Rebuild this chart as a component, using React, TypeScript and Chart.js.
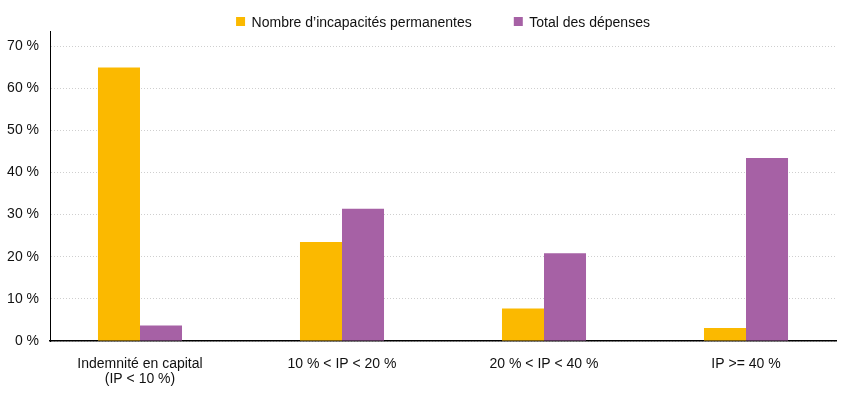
import React, { useEffect, useRef } from "react";
import { Chart, registerables } from "chart.js";

Chart.register(...registerables);

const categories: string[][] = [
  ["Indemnité en capital", "(IP < 10 %)"],
  ["10 % < IP < 20 %"],
  ["20 % < IP < 40 %"],
  ["IP >= 40 %"],
];
const seriesNames = ["Nombre d’incapacités permanentes", "Total des dépenses"];
const nombreIP = [64.9, 23.5, 7.7, 3.1];
const totalDepenses = [3.7, 31.4, 20.8, 43.4];
const yTicks = [0, 10, 20, 30, 40, 50, 60, 70];

const COLORS = ["#FBB900", "#A661A5"];
const FONT = "'Liberation Sans', Arial, sans-serif";
const FONT_SIZE = 14;
const TEXT = "#111111";

const legendPlugin = {
  id: "customLegend",
  afterDraw(chart: any) {
    const ctx = chart.ctx;
    const area = chart.chartArea;
    ctx.save();
    ctx.font = `${FONT_SIZE}px ${FONT}`;
    ctx.textBaseline = "alphabetic";
    ctx.textAlign = "left";
    const box = 9;
    const boxGap = 6.5;
    const itemGap = 42;
    const widths = seriesNames.map((s) => ctx.measureText(s).width);
    let total = 0;
    widths.forEach((w, i) => {
      total += box + boxGap + w + (i > 0 ? itemGap : 0);
    });
    let x = (area.left + area.right) / 2 - total / 2;
    seriesNames.forEach((s, i) => {
      ctx.fillStyle = COLORS[i];
      ctx.fillRect(x, 17, box, box);
      ctx.fillStyle = TEXT;
      ctx.fillText(s, x + box + boxGap, 27);
      x += box + boxGap + widths[i] + itemGap;
    });
    ctx.restore();
  },
};

export default function App() {
  const ref = useRef<HTMLCanvasElement | null>(null);
  useEffect(() => {
    if (!ref.current) return;
    const chart = new Chart(ref.current, {
      type: "bar",
      data: {
        datasets: [
          {
            label: seriesNames[0],
            data: nombreIP.map((v, i) => ({ x: i, y: v })),
            backgroundColor: COLORS[0],
            borderWidth: 0,
            categoryPercentage: 0.416,
            barPercentage: 1,
          },
          {
            label: seriesNames[1],
            data: totalDepenses.map((v, i) => ({ x: i, y: v })),
            backgroundColor: COLORS[1],
            borderWidth: 0,
            categoryPercentage: 0.416,
            barPercentage: 1,
          },
        ],
      },
      options: {
        animation: false,
        responsive: true,
        maintainAspectRatio: false,
        layout: { padding: { top: 31, right: 16, left: 0, bottom: 0 } },
        plugins: { legend: { display: false }, tooltip: { enabled: false } },
        scales: {
          x: {
            type: "linear",
            offset: false,
            min: -0.4455,
            max: 3.4455,
            z: 1,
            grid: { display: false, drawTicks: false, offset: false },
            border: { display: true, color: "#000000", width: 1.5 },
            afterBuildTicks: (scale: any) => {
              scale.ticks = categories.map((_, i) => ({ value: i }));
            },
            afterFit: (scale: any) => {
              scale.height = 54;
            },
            ticks: {
              autoSkip: false,
              maxRotation: 0,
              padding: 16,
              color: TEXT,
              font: { family: FONT, size: FONT_SIZE, lineHeight: "15px" as any },
              callback: (v: any) => categories[Math.round(Number(v))] ?? "",
            },
          },
          y: {
            min: 0,
            max: 73.56,
            grid: { color: "#cfcfcf", lineWidth: 1, drawTicks: false },
            border: { display: true, color: "#000000", width: 1, dash: [1, 2] },
            afterBuildTicks: (scale: any) => {
              scale.ticks = yTicks.map((v) => ({ value: v }));
            },
            afterFit: (scale: any) => {
              scale.width = 50;
            },
            ticks: {
              padding: 11,
              color: TEXT,
              font: { family: FONT, size: FONT_SIZE },
              callback: (v: any) => `${v} %`,
            },
          },
        },
      },
      plugins: [legendPlugin],
    });
    return () => chart.destroy();
  }, []);
  return (
    <div style={{ position: "absolute", left: 0, top: 0, width: 852, height: 395, background: "#fff" }}>
      <canvas ref={ref} />
    </div>
  );
}
